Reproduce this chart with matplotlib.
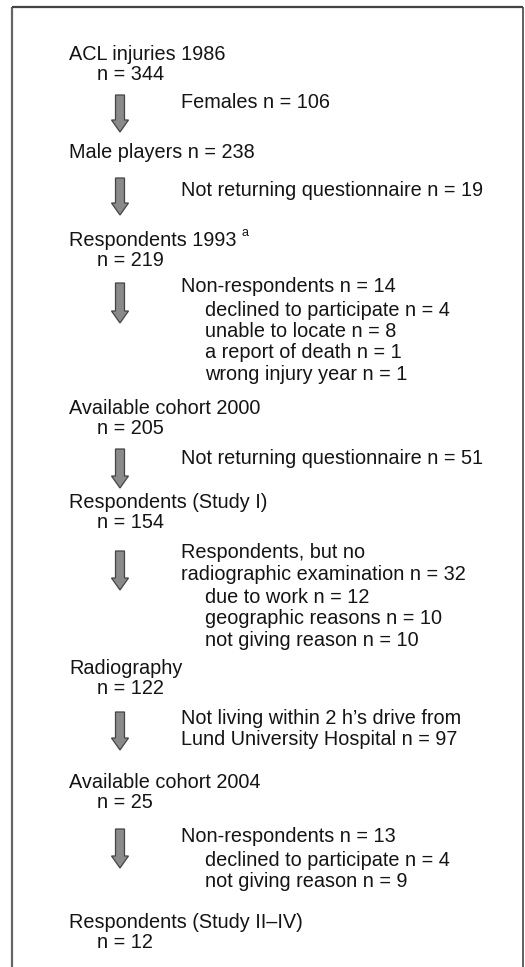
import matplotlib.pyplot as plt
from matplotlib.patches import FancyArrow

# flow stages (main boxes)
stage_labels = ["ACL injuries 1986", "Male players n = 238", "Respondents 1993",
                "Available cohort 2000", "Respondents (Study I)", "Radiography",
                "Available cohort 2004", "Respondents (Study II\u2013IV)"]
stage_counts = ["n = 344", None, "n = 219", "n = 205", "n = 154", "n = 122",
                "n = 25", "n = 12"]

# exclusions between stages
excl_heads = [["Females n = 106"],
              ["Not returning questionnaire n = 19"],
              ["Non-respondents n = 14"],
              ["Not returning questionnaire n = 51"],
              ["Respondents, but no", "radiographic examination n = 32"],
              ["Not living within 2 h\u2019s drive from", "Lund University Hospital n = 97"],
              ["Non-respondents n = 13"]]
excl_details = [[], [],
                ["declined to participate n = 4", "unable to locate n = 8",
                 "a report of death n = 1", "wrong injury year n = 1"],
                [],
                ["due to work n = 12", "geographic reasons n = 10", "not giving reason n = 10"],
                [],
                ["declined to participate n = 4", "not giving reason n = 9"]]

# layout (pixel coords, y downwards)
W, H = 525, 967
stage_y = [55, 152, 240, 408, 503, 668, 782, 923]
arrow_top = [95, 178, 283, 449, 551, 712, 829]
arrow_tip = [132, 215, 323, 488, 590, 750, 868]
excl_y = [102, 191, 287, 459, 553, 718, 837]
LINE = 21.5
FS = 14.3
TXT = "#141414"

fig = plt.figure(figsize=(W / 100, H / 100), dpi=100)
ax = fig.add_axes([0, 0, 1, 1])
ax.set_xlim(0, W)
ax.set_ylim(H, 0)
ax.axis("off")
plt.rcParams["font.family"] = ["Liberation Sans", "DejaVu Sans"]

# frame (open at the bottom)
ax.plot([12, 12], [7, H + 5], color="#666666", lw=1.6, solid_capstyle="butt")
ax.plot([12, 523], [7, 7], color="#444444", lw=1.6, solid_capstyle="butt")
ax.plot([523, 523], [7, H + 5], color="#444444", lw=1.2, solid_capstyle="butt")

for i, label in enumerate(stage_labels):
    y = stage_y[i]
    ax.text(69, y, label, fontsize=FS, color=TXT, va="center", ha="left")
    if stage_counts[i]:
        ax.text(97, y + 20, stage_counts[i], fontsize=FS, color=TXT, va="center", ha="left")
    if label == "Respondents 1993":
        ax.text(242, y - 7, "a", fontsize=9, color=TXT, va="center", ha="left")

for i in range(len(arrow_top)):
    length = arrow_tip[i] - arrow_top[i]
    ax.add_patch(FancyArrow(120, arrow_top[i], 0, length, width=9, head_width=17,
                            head_length=12, length_includes_head=True,
                            facecolor="#8a8a8a", edgecolor="#444444", lw=0.9))
    y = excl_y[i]
    for line in excl_heads[i]:
        ax.text(181, y, line, fontsize=FS, color=TXT, va="center", ha="left")
        y += LINE
    y += 1.5
    for line in excl_details[i]:
        ax.text(205, y, line, fontsize=FS, color=TXT, va="center", ha="left")
        y += LINE

fig.savefig("out.png", dpi=100)
plt.close(fig)
